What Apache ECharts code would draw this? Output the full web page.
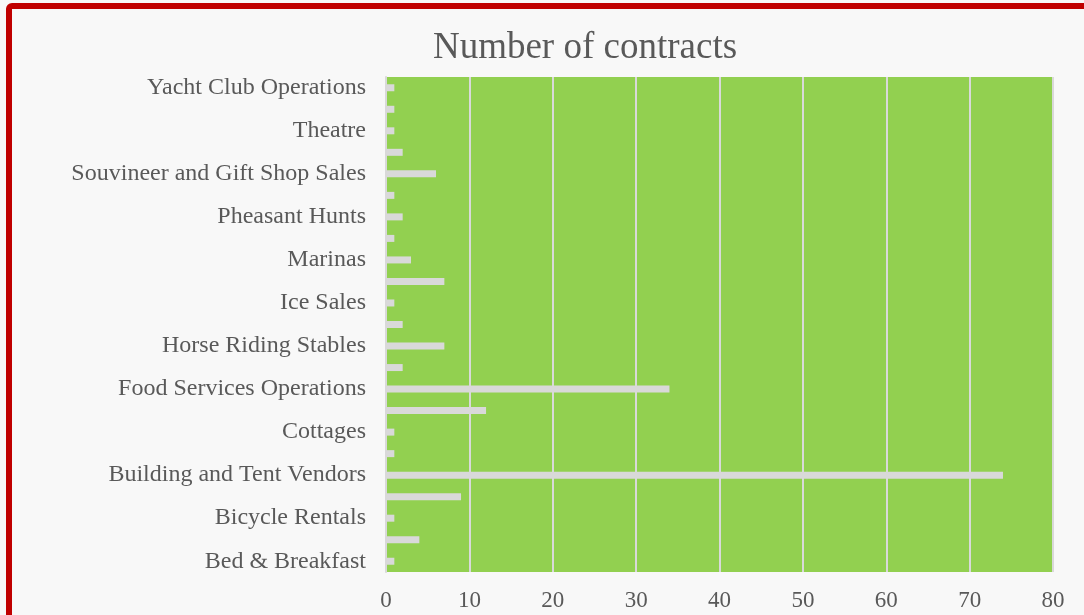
<!DOCTYPE html>
<html>
<head>
<meta charset="utf-8">
<script src="https://cdn.jsdelivr.net/npm/echarts@6/dist/echarts.min.js"></script>
<style>
  html, body { margin: 0; padding: 0; background: #f8f8f8; overflow: hidden; }
  .frame {
    position: absolute; left: 6px; top: 3px; width: 1090px; height: 620px;
    border: 6px solid #c00000; border-radius: 6px; box-sizing: border-box;
  }
  #chart { position: absolute; left: 0; top: 0; width: 1084px; height: 615px; }
</style>
</head>
<body>
<div class="frame"></div>
<div id="chart"></div>
<script>
// bottom to top, as the axis draws them
const categories = [
  'Bed & Breakfast', 'Beverage Sales', 'Bicycle Rentals', 'Boat Rentals',
  'Building and Tent Vendors', 'Campgrounds', 'Cottages', 'Firewood Sales',
  'Food Services Operations', 'Golf Courses', 'Horse Riding Stables', 'Hunting Guides',
  'Ice Sales', 'Laundry Facilities', 'Marinas', 'Mini Golf',
  'Pheasant Hunts', 'Restaurants', 'Souvineer and Gift Shop Sales', 'Swimming Pools',
  'Theatre', 'Vending Machines', 'Yacht Club Operations'
];
const contracts = [1, 4, 1, 9, 74, 1, 1, 12, 34, 2, 7, 2, 1, 7, 3, 1, 2, 1, 6, 2, 1, 1, 1];
const xTicks = [0, 80, 10];  // min, max, step

const chart = echarts.init(document.getElementById('chart'));
const font = '"Liberation Serif", "Times New Roman", serif';

chart.setOption({
  backgroundColor: 'transparent',
  title: {
    text: 'Number of contracts',
    left: 580, top: 25, textAlign: 'center',
    textStyle: { fontFamily: font, fontSize: 37, fontWeight: 'normal', color: '#595959' }
  },
  grid: {
    left: 386, right: 31, top: 77, bottom: 43,
    show: true, backgroundColor: '#92d050', borderWidth: 0
  },
  xAxis: {
    type: 'value',
    min: xTicks[0], max: xTicks[1], interval: xTicks[2],
    axisLine: { show: false },
    axisTick: { show: false },
    axisLabel: { fontFamily: font, fontSize: 23, color: '#595959', margin: 17 },
    splitLine: { lineStyle: { color: '#d9d9d9', width: 2 } }
  },
  yAxis: {
    type: 'category',
    data: categories,
    axisLine: { show: true, lineStyle: { color: '#d9d9d9', width: 2 } },
    axisTick: { show: false },
    axisLabel: { interval: 1, fontFamily: font, fontSize: 24, color: '#595959', margin: 20 }
  },
  series: [{
    type: 'bar',
    data: contracts,
    barWidth: 7,
    itemStyle: { color: '#d9d9d9' },
    silent: true
  }]
});
</script>
</body>
</html>
